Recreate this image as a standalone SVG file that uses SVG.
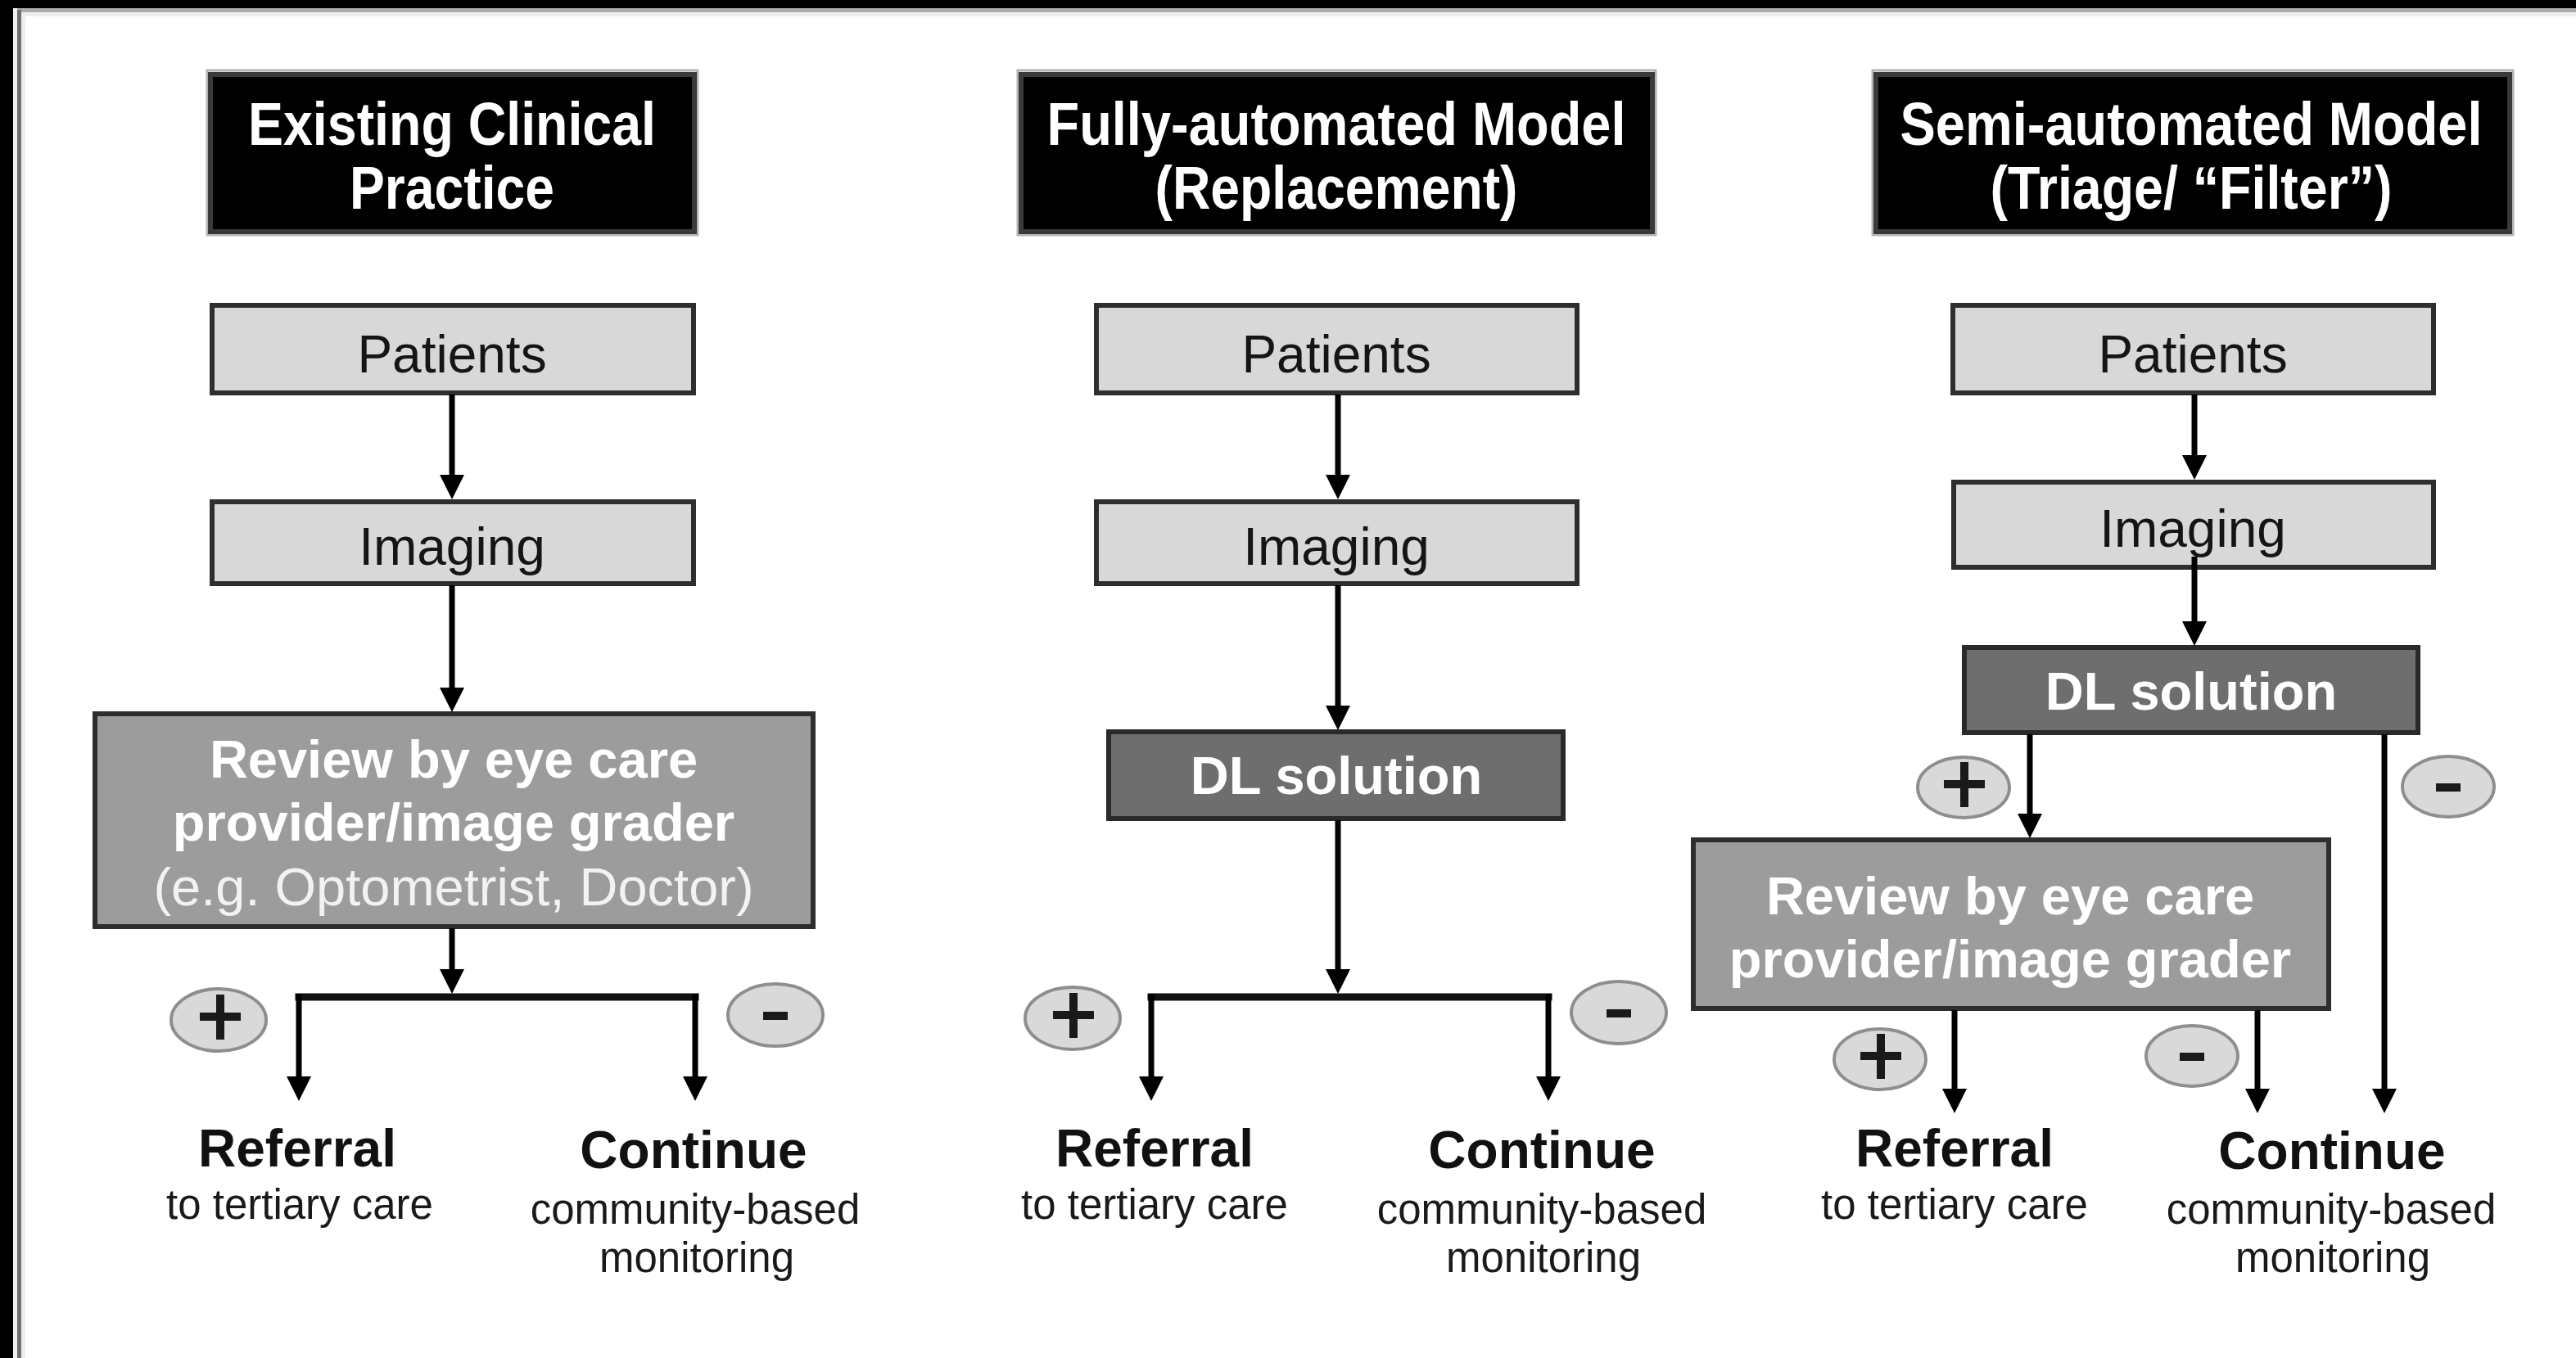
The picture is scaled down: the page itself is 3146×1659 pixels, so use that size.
<svg xmlns="http://www.w3.org/2000/svg" width="3146" height="1659" viewBox="0 0 3146 1659">
  <defs>
    <style>
      text { font-family: "Liberation Sans", Arial, Helvetica, sans-serif; text-anchor: middle; }
      .title-box { fill: #000000; stroke: #3a3a3a; stroke-width: 6; }
      .title-halo { fill: none; stroke: #b4b4b4; stroke-width: 3; }
      .title { fill: #ffffff; font-weight: bold; font-size: 75px; }
      .step { fill: #d8d8d8; stroke: #2e2e2e; stroke-width: 6; }
      .step-text { fill: #151515; font-size: 64px; }
      .dl { fill: #6e6e6e; stroke: #2a2a2a; stroke-width: 6; }
      .review { fill: #9c9c9c; stroke: #2e2e2e; stroke-width: 6; }
      .inv-bold { fill: #ffffff; font-weight: bold; font-size: 65px; }
      .inv { fill: #f2f2f2; font-size: 65px; }
      .badge { fill: #d9d9d9; stroke: #8e8e8e; stroke-width: 4; }
      .sign { fill: #1a1a1a; }
      .out-head { fill: #111111; font-weight: bold; font-size: 64px; }
      .out-sub { fill: #1a1a1a; font-size: 51px; }
      .link { fill: none; stroke: #000000; stroke-width: 7; }
      .bar { fill: none; stroke: #111111; stroke-width: 9; stroke-linecap: square; }
    </style>
    <marker id="arrow" viewBox="0 0 30 30" refX="22" refY="15" markerWidth="30" markerHeight="30" markerUnits="userSpaceOnUse" orient="auto">
      <path d="M0,0 L30,15 L0,30 Z" fill="#000000"/>
    </marker>
  </defs>

  <!-- page background and frame edges -->
  <rect x="0" y="0" width="3146" height="1659" fill="#ffffff"/>
  <rect x="0" y="0" width="3146" height="10" fill="#000000"/>
  <rect x="16" y="10" width="3130" height="5" fill="#acacac"/>
  <rect x="16" y="15" width="3130" height="5" fill="#efefef"/>
  <rect x="0" y="0" width="16" height="1659" fill="#000000"/>
  <rect x="16" y="10" width="5" height="1649" fill="#f0f0f0"/>
  <rect x="21" y="12" width="5" height="1647" fill="#6f6f6f"/>
  <rect x="26" y="15" width="5" height="1644" fill="#eeeeee"/>

  <!-- column headings -->
  <g id="title-existing">
    <rect class="title-halo" x="253" y="86" width="599" height="201"/>
    <rect class="title-box" x="257" y="91" width="591" height="192"/>
    <text class="title" x="552" y="177" textLength="498" lengthAdjust="spacingAndGlyphs">Existing Clinical</text>
    <text class="title" x="552" y="255" textLength="250" lengthAdjust="spacingAndGlyphs">Practice</text>
  </g>
  <g id="title-full">
    <rect class="title-halo" x="1243" y="86" width="779" height="201"/>
    <rect class="title-box" x="1247" y="91" width="771" height="192"/>
    <text class="title" x="1632" y="177" textLength="707" lengthAdjust="spacingAndGlyphs">Fully-automated Model</text>
    <text class="title" x="1632" y="255" textLength="443" lengthAdjust="spacingAndGlyphs">(Replacement)</text>
  </g>
  <g id="title-semi">
    <rect class="title-halo" x="2287" y="86" width="782" height="201"/>
    <rect class="title-box" x="2291" y="91" width="774" height="192"/>
    <text class="title" x="2676" y="177" textLength="711" lengthAdjust="spacingAndGlyphs">Semi-automated Model</text>
    <text class="title" x="2676" y="255" textLength="491" lengthAdjust="spacingAndGlyphs">(Triage/ “Filter”)</text>
  </g>

  <!-- column 1: existing clinical practice -->
  <g id="c1-patients">
    <rect class="step" x="259" y="373" width="588" height="107"/>
    <text class="step-text" x="552" y="455">Patients</text>
  </g>
  <g id="c1-imaging">
    <rect class="step" x="259" y="613" width="588" height="100"/>
    <text class="step-text" x="552" y="690">Imaging</text>
  </g>
  <g id="c1-review">
    <rect class="review" x="116" y="872" width="877" height="260"/>
    <text class="inv-bold" x="554" y="950">Review by eye care</text>
    <text class="inv-bold" x="554" y="1027">provider/image grader</text>
    <text class="inv" x="554" y="1106">(e.g. Optometrist, Doctor)</text>
  </g>
  <g id="c1-plus">
    <ellipse class="badge" cx="267" cy="1246" rx="58" ry="38"/>
    <rect class="sign" x="244" y="1237" width="50" height="10"/>
    <rect class="sign" x="264" y="1215" width="10" height="55"/>
  </g>
  <g id="c1-minus">
    <ellipse class="badge" cx="947" cy="1240" rx="58" ry="38"/>
    <rect class="sign" x="932" y="1236" width="30" height="10"/>
  </g>
  <g id="c1-referral">
    <text class="out-head" x="363" y="1425">Referral</text>
    <text class="out-sub" x="366" y="1489">to tertiary care</text>
  </g>
  <g id="c1-continue">
    <text class="out-head" x="847" y="1427">Continue</text>
    <text class="out-sub" x="849" y="1495">community-based</text>
    <text class="out-sub" x="851" y="1554">monitoring</text>
  </g>

  <!-- column 2: fully-automated model -->
  <g id="c2-patients">
    <rect class="step" x="1339" y="373" width="587" height="107"/>
    <text class="step-text" x="1632" y="455">Patients</text>
  </g>
  <g id="c2-imaging">
    <rect class="step" x="1339" y="613" width="587" height="100"/>
    <text class="step-text" x="1632" y="690">Imaging</text>
  </g>
  <g id="c2-dl">
    <rect class="dl" x="1354" y="894" width="555" height="106"/>
    <text class="inv-bold" x="1632" y="970">DL solution</text>
  </g>
  <g id="c2-plus">
    <ellipse class="badge" cx="1310" cy="1244" rx="58" ry="38"/>
    <rect class="sign" x="1286" y="1235" width="50" height="10"/>
    <rect class="sign" x="1306" y="1213" width="10" height="55"/>
  </g>
  <g id="c2-minus">
    <ellipse class="badge" cx="1977" cy="1237" rx="58" ry="38"/>
    <rect class="sign" x="1962" y="1233" width="30" height="10"/>
  </g>
  <g id="c2-referral">
    <text class="out-head" x="1410" y="1425">Referral</text>
    <text class="out-sub" x="1410" y="1489">to tertiary care</text>
  </g>
  <g id="c2-continue">
    <text class="out-head" x="1883" y="1427">Continue</text>
    <text class="out-sub" x="1883" y="1495">community-based</text>
    <text class="out-sub" x="1885" y="1554">monitoring</text>
  </g>

  <!-- column 3: semi-automated model -->
  <g id="c3-patients">
    <rect class="step" x="2385" y="373" width="587" height="107"/>
    <text class="step-text" x="2678" y="455">Patients</text>
  </g>
  <g id="c3-imaging">
    <rect class="step" x="2386" y="589" width="586" height="104"/>
    <text class="step-text" x="2678" y="668">Imaging</text>
  </g>
  <g id="c3-dl">
    <rect class="dl" x="2399" y="791" width="554" height="104"/>
    <text class="inv-bold" x="2676" y="867">DL solution</text>
  </g>
  <g id="c3-review">
    <rect class="review" x="2068" y="1026" width="776" height="206"/>
    <text class="inv-bold" x="2455" y="1117">Review by eye care</text>
    <text class="inv-bold" x="2455" y="1194">provider/image grader</text>
  </g>
  <g id="c3-plus-dl">
    <ellipse class="badge" cx="2398" cy="962" rx="56" ry="37"/>
    <rect class="sign" x="2374" y="953" width="50" height="10"/>
    <rect class="sign" x="2394" y="931" width="10" height="55"/>
  </g>
  <g id="c3-minus-dl">
    <ellipse class="badge" cx="2990" cy="961" rx="56" ry="37"/>
    <rect class="sign" x="2975" y="957" width="30" height="10"/>
  </g>
  <g id="c3-plus-review">
    <ellipse class="badge" cx="2296" cy="1294" rx="56" ry="37"/>
    <rect class="sign" x="2272" y="1285" width="50" height="10"/>
    <rect class="sign" x="2292" y="1263" width="10" height="55"/>
  </g>
  <g id="c3-minus-review">
    <ellipse class="badge" cx="2677" cy="1290" rx="56" ry="37"/>
    <rect class="sign" x="2662" y="1286" width="30" height="10"/>
  </g>
  <g id="c3-referral">
    <text class="out-head" x="2387" y="1425">Referral</text>
    <text class="out-sub" x="2387" y="1489">to tertiary care</text>
  </g>
  <g id="c3-continue">
    <text class="out-head" x="2848" y="1428">Continue</text>
    <text class="out-sub" x="2847" y="1495">community-based</text>
    <text class="out-sub" x="2849" y="1554">monitoring</text>
  </g>

  <!-- connectors -->
  <g id="connectors">
    <!-- column 1 -->
    <path class="link" d="M552,482 V602" marker-end="url(#arrow)"/>
    <path class="link" d="M552,715 V862" marker-end="url(#arrow)"/>
    <path class="link" d="M552,1134 V1206" marker-end="url(#arrow)"/>
    <path class="bar" d="M365,1218 H849"/>
    <path class="link" d="M365,1214 V1337" marker-end="url(#arrow)"/>
    <path class="link" d="M849,1214 V1337" marker-end="url(#arrow)"/>
    <!-- column 2 -->
    <path class="link" d="M1634,482 V602" marker-end="url(#arrow)"/>
    <path class="link" d="M1634,715 V884" marker-end="url(#arrow)"/>
    <path class="link" d="M1634,1002 V1206" marker-end="url(#arrow)"/>
    <path class="bar" d="M1406,1218 H1891"/>
    <path class="link" d="M1406,1214 V1337" marker-end="url(#arrow)"/>
    <path class="link" d="M1891,1214 V1337" marker-end="url(#arrow)"/>
    <!-- column 3 -->
    <path class="link" d="M2680,482 V578" marker-end="url(#arrow)"/>
    <path class="link" d="M2680,680 V781" marker-end="url(#arrow)"/>
    <path class="link" d="M2479,897 V1016" marker-end="url(#arrow)"/>
    <path class="link" d="M2912,897 V1352" marker-end="url(#arrow)"/>
    <path class="link" d="M2387,1234 V1352" marker-end="url(#arrow)"/>
    <path class="link" d="M2757,1234 V1352" marker-end="url(#arrow)"/>
  </g>
</svg>
